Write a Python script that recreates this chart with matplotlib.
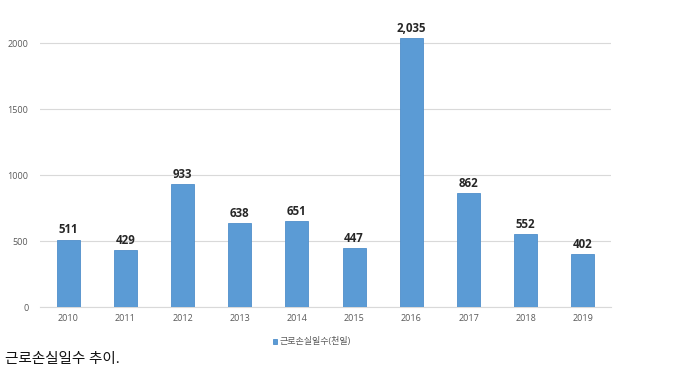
import matplotlib.pyplot as plt

plt.rcParams['font.family'] = ['Open Sans', 'Noto Sans CJK KR', 'DejaVu Sans']

years = ['2010', '2011', '2012', '2013', '2014', '2015', '2016', '2017', '2018', '2019']
days = [511, 429, 933, 638, 651, 447, 2035, 862, 552, 402]
yticks = [0, 500, 1000, 1500, 2000]

fig = plt.figure(figsize=(6.76, 3.76), dpi=100)
ax = fig.add_axes([0.0585, 0.1835, 0.846, 0.737])

x = range(len(years))
ax.bar(x, days, width=0.4, color='#5B9BD5', edgecolor='#4F8FCB', linewidth=0.6,
       zorder=3, label='근로손실일수(천일)')
for xi, v in zip(x, days):
    ax.text(xi, v + 25, f'{v:,}', ha='center', va='bottom', fontsize=8.3,
            fontweight='bold', color='#262626')

ax.set_xlim(-0.5, len(years) - 0.5)
ax.set_ylim(0, 2100)
ax.set_yticks(yticks)
ax.set_yticklabels([str(t) for t in yticks])
ax.set_xticks(list(x))
ax.set_xticklabels(years)
ax.tick_params(axis='both', length=0, labelsize=6.5, colors='#595959')
ax.tick_params(axis='y', pad=8)
ax.tick_params(axis='x', pad=5)
ax.grid(axis='y', color='#D9D9D9', linewidth=0.8, zorder=0)
for s in ['top', 'right', 'left']:
    ax.spines[s].set_visible(False)
ax.spines['bottom'].set_color('#D9D9D9')

ax.legend(loc='upper center', bbox_to_anchor=(0.476, -0.08), frameon=False,
          fontsize=6.5, handlelength=0.5, handleheight=0.5, handletextpad=0.3,
          labelcolor='#595959')

fig.text(0.008, 0.035, '근로손실일수 추이.', fontsize=10.5, color='#111111')

fig.savefig('out.png', dpi=100)
